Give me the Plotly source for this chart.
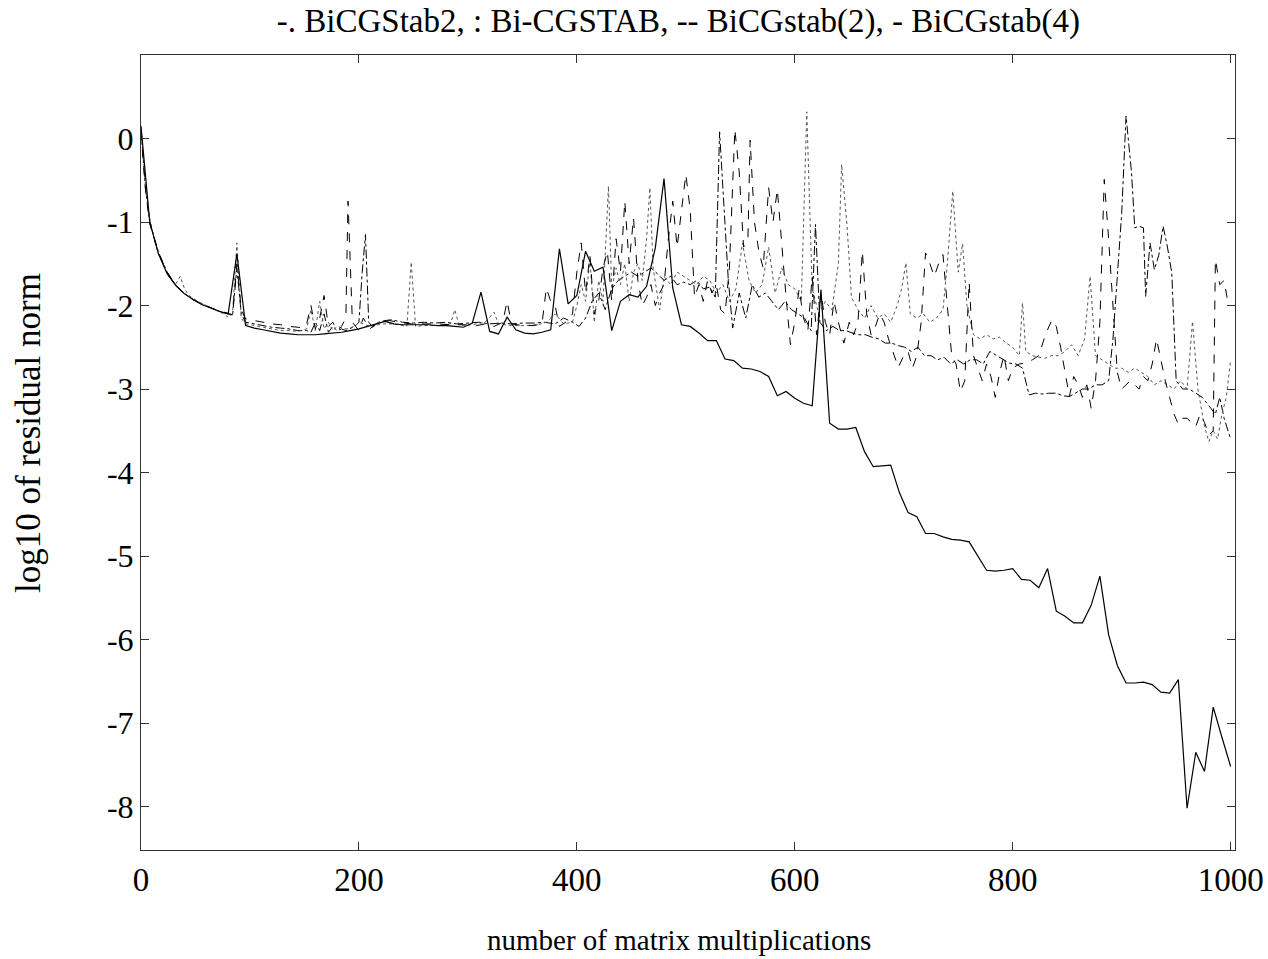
import plotly.graph_objects as go

# ---- BiCGstab(4) (solid) ----
x_b4 = [0, 8, 16, 24, 32, 40, 48, 56, 64, 72, 80, 88, 96, 104, 112, 120, 128, 136, 144, 152,
        160, 168, 176, 184, 192, 200, 208, 216, 224, 232, 240, 248, 256, 264, 272, 280, 288, 296,
        304, 312, 320, 328, 336, 344, 352, 360, 368, 376, 384, 392, 400, 408, 416, 424, 432, 440,
        448, 456, 464, 472, 480, 488, 496, 504, 512, 520, 528, 536, 544, 552, 560, 568, 576, 584,
        592, 600, 608, 616, 624, 632, 640, 648, 656, 664, 672, 680, 688, 696, 704, 712, 720, 728,
        736, 744, 752, 760, 768, 776, 784, 792, 800, 808, 816, 824, 832, 840, 848, 856, 864, 872,
        880, 888, 896, 904, 912, 920, 928, 936, 944, 952, 960, 968, 976, 984, 992, 1000]
y_b4 = [0.15, -1.0, -1.38, -1.62, -1.76, -1.86, -1.93, -1.99, -2.03, -2.07, -2.10, -1.38, -2.24,
        -2.27, -2.29, -2.31, -2.33, -2.34, -2.35, -2.35, -2.35, -2.34, -2.33, -2.32, -2.30, -2.28,
        -2.25, -2.22, -2.19, -2.22, -2.23, -2.23, -2.23, -2.23, -2.24, -2.24, -2.25, -2.26, -2.21,
        -1.84, -2.31, -2.34, -2.14, -2.29, -2.33, -2.34, -2.32, -2.29, -1.32, -1.98, -1.88, -1.35,
        -1.59, -1.54, -2.30, -1.95, -1.87, -1.90, -1.77, -1.31, -0.48, -1.79, -2.23, -2.25, -2.33,
        -2.42, -2.42, -2.64, -2.66, -2.75, -2.76, -2.79, -2.85, -3.08, -3.03, -3.11, -3.17, -3.20,
        -1.81, -3.41, -3.48, -3.48, -3.46, -3.75, -3.93, -3.92, -3.91, -4.24, -4.48, -4.53, -4.73,
        -4.73, -4.77, -4.80, -4.81, -4.83, -5.00, -5.17, -5.18, -5.17, -5.15, -5.28, -5.29, -5.38,
        -5.15, -5.66, -5.72, -5.80, -5.80, -5.59, -5.24, -5.94, -6.31, -6.52, -6.52, -6.51, -6.54,
        -6.63, -6.64, -6.48, -8.02, -7.35, -7.58, -6.81, -7.17, -7.52]

# ---- Bi-CGSTAB (dotted) ----
x_bi = [0, 4, 8, 12, 16, 20, 24, 28, 32, 36, 40, 44, 52, 60, 68, 76, 80, 84, 88, 92, 96, 104, 112,
        120, 128, 136, 144, 152, 156, 160, 164, 168, 172, 176, 180, 188, 196, 200, 212, 220, 232,
        244, 248, 252, 260, 272, 284, 288, 292, 304, 316, 324, 328, 340, 352, 364, 372, 380, 388,
        396, 400, 404, 408, 412, 416, 420, 424, 429, 432, 436, 440, 444, 448, 452, 456, 460, 464,
        467, 470, 476, 480, 486, 492, 498, 504, 510, 516, 522, 528, 534, 540, 546, 552, 558, 564,
        570, 576, 582, 588, 594, 600, 606, 611, 616, 622, 628, 634, 640, 643, 648, 652, 658, 664,
        670, 676, 682, 688, 694, 698, 702, 706, 712, 718, 724, 730, 736, 740, 745, 750, 754, 758,
        764, 770, 776, 782, 788, 794, 800, 806, 809, 812, 818, 824, 830, 836, 842, 848, 854, 860,
        866, 871, 876, 882, 888, 894, 900, 906, 912, 918, 924, 930, 936, 942, 948, 954, 960, 965,
        970, 976, 980, 984, 988, 992, 996, 1000]
y_bi = [0.12, -0.55, -0.95, -1.2, -1.38, -1.5, -1.62, -1.7, -1.74, -1.65, -1.8, -1.88, -1.95, -2.0,
        -2.05, -2.1, -2.14, -2.1, -1.25, -2.15, -2.22, -2.24, -2.26, -2.28, -2.3, -2.3, -2.31, -2.28,
        -2.05, -2.3, -1.95, -2.28, -2.2, -2.3, -2.25, -2.28, -2.25, -2.2, -2.26, -2.22, -2.22, -2.25,
        -1.48, -2.25, -2.24, -2.24, -2.22, -2.05, -2.24, -2.23, -2.2, -2.08, -2.22, -2.24, -2.24,
        -2.23, -2.2, -2.1, -2.22, -2.2, -2.0, -1.75, -1.95, -1.45, -2.2, -1.7, -1.95, -0.57, -1.8,
        -1.55, -1.75, -1.5, -1.95, -1.6, -1.5, -1.7, -1.2, -0.59, -1.55, -2.05, -1.65, -1.75, -1.6,
        -1.65, -1.7, -1.75, -1.65, -1.7, -1.85, -1.75, -1.95, -1.8, -1.25, -1.7, -1.85, -1.75, -1.3,
        -1.85, -1.55, -1.75, -1.8, -1.95, 0.32, -1.8, -2.1, -1.95, -2.05, -1.5, -0.31, -1.05, -1.9,
        -2.05, -2.15, -2.0, -2.15, -2.1, -2.2, -2.0, -1.8, -1.49, -2.1, -2.15, -2.1, -2.2, -2.15,
        -2.05, -1.5, -0.63, -1.6, -1.26, -2.0, -2.35, -2.4, -2.35, -2.4, -2.38, -2.45, -2.5, -2.6,
        -1.97, -2.55, -2.6, -2.62, -2.63, -2.6, -2.6, -2.55, -2.47, -2.6, -2.4, -1.65, -2.6, -2.65,
        -2.7, -2.75, -2.75, -2.8, -2.75, -2.8, -2.85, -2.95, -2.9, -2.95, -3.0, -2.9, -3.0, -2.19,
        -3.0, -3.45, -3.63, -3.5, -3.6, -3.3, -3.1, -2.65]

# ---- BiCGstab(2) (dashed) ----
x_b2 = [0, 4, 8, 16, 24, 32, 40, 48, 56, 64, 72, 80, 84, 88, 92, 96, 104, 112, 120, 128, 136, 144,
        148, 152, 156, 160, 164, 168, 172, 176, 180, 184, 188, 190, 194, 200, 204, 210, 216, 222,
        228, 236, 248, 260, 272, 284, 296, 308, 316, 324, 332, 336, 340, 350, 360, 368, 372, 376,
        380, 384, 392, 396, 400, 404, 408, 412, 416, 420, 424, 428, 432, 436, 440, 444, 448, 452,
        456, 460, 464, 468, 472, 476, 480, 484, 488, 492, 496, 500, 504, 508, 512, 516, 520, 524,
        528, 532, 536, 540, 545, 549, 553, 557, 559, 563, 567, 571, 576, 580, 584, 588, 592, 596,
        600, 604, 608, 612, 616, 620, 624, 628, 632, 636, 640, 645, 650, 654, 658, 662, 666, 670,
        674, 678, 682, 686, 690, 695, 700, 704, 708, 712, 716, 720, 724, 728, 732, 736, 740, 744,
        748, 752, 756, 760, 764, 768, 772, 776, 780, 784, 788, 792, 796, 800, 806, 812, 818, 824,
        830, 836, 840, 844, 848, 852, 856, 860, 864, 868, 872, 876, 880, 884, 888, 892, 896, 900,
        904, 908, 912, 916, 920, 924, 928, 932, 936, 940, 944, 948, 952, 956, 960, 964, 968, 972,
        976, 980, 984, 986, 990, 994, 998, 1000]
y_b2 = [0.08, -0.6, -1.02, -1.37, -1.6, -1.76, -1.86, -1.93, -1.98, -2.03, -2.06, -2.09, -2.11,
        -1.5, -2.05, -2.16, -2.18, -2.2, -2.22, -2.23, -2.25, -2.26, -2.27, -2.22, -2.0, -2.28,
        -2.15, -1.88, -2.25, -2.2, -2.3, -2.25, -2.15, -0.75, -2.2, -2.3, -2.15, -2.28, -2.22, -2.2,
        -2.18, -2.2, -2.22, -2.22, -2.22, -2.23, -2.23, -2.24, -2.22, -2.25, -2.2, -1.95, -2.22,
        -2.24, -2.24, -2.22, -1.79, -1.95, -2.0, -2.25, -2.18, -2.1, -1.6, -1.25, -1.85, -1.4, -2.1,
        -1.95, -1.55, -1.35, -1.95, -1.2, -1.6, -0.75, -1.5, -0.95, -1.7, -2.0, -1.9, -1.75, -2.0,
        -1.85, -1.75, -1.2, -0.75, -1.3, -0.85, -0.43, -0.85, -1.9, -1.75, -1.95, -1.7, -1.85,
        -1.75, -2.05, -2.1, -1.55, 0.11, -0.4, -1.3, -1.2, -0.02, -1.0, -1.35, -1.55, -0.59, -1.0,
        -0.61, -1.3, -1.9, -2.47, -2.2, -1.8, -2.15, -2.3, -1.65, -2.35, -1.85, -2.2, -2.35, -1.95,
        -2.2, -2.45, -2.2, -2.35, -2.2, -1.35, -2.1, -2.35, -2.25, -2.1, -2.2, -2.4, -2.55, -2.74,
        -2.6, -2.55, -2.75, -2.6, -2.2, -1.37, -1.5, -1.65, -1.5, -1.39, -2.0, -2.6, -2.7, -3.03,
        -2.9, -1.72, -2.6, -2.75, -2.9, -2.7, -2.85, -3.1, -2.8, -2.6, -2.9, -2.75, -2.7, -2.69,
        -2.65, -2.6, -2.35, -2.17, -2.25, -2.5, -2.8, -3.09, -2.85, -2.95, -3.1, -2.95, -3.23, -2.9,
        -2.2, -0.49, -1.2, -2.0, -2.8, -3.0, -2.95, -2.9, -2.95, -3.0, -2.85, -2.9, -2.7, -2.4,
        -2.65, -2.9, -3.1, -3.3, -3.42, -3.35, -3.35, -3.4, -3.45, -3.3, -3.4, -3.55, -3.5, -1.45,
        -1.75, -1.7, -2.0, -2.0]

# ---- BiCGStab2 (dash-dot) ----
x_s2 = [0, 4, 8, 16, 24, 32, 40, 48, 56, 64, 72, 80, 84, 88, 92, 96, 104, 112, 120, 128, 136, 144,
        152, 156, 160, 164, 168, 172, 176, 180, 184, 188, 196, 200, 203, 206, 209, 212, 218, 224,
        230, 240, 250, 260, 270, 280, 290, 300, 310, 320, 330, 340, 350, 360, 370, 380, 388, 396,
        402, 408, 414, 420, 426, 432, 438, 444, 450, 456, 462, 468, 474, 480, 486, 492, 498, 504,
        510, 516, 522, 527, 531, 535, 539, 543, 549, 555, 561, 567, 573, 579, 585, 591, 597, 603,
        609, 615, 619, 623, 629, 635, 641, 647, 653, 659, 665, 671, 677, 683, 689, 695, 701, 707,
        713, 719, 725, 731, 737, 743, 749, 755, 761, 767, 773, 779, 785, 791, 797, 803, 809, 815,
        821, 827, 833, 840, 846, 852, 858, 864, 870, 876, 882, 888, 892, 896, 900, 904, 909, 912,
        916, 920, 922, 926, 930, 934, 938, 942, 946, 950, 956, 962, 968, 974, 980, 986, 990, 994,
        1000]
y_s2 = [0.1, -0.58, -1.0, -1.36, -1.6, -1.76, -1.86, -1.93, -1.98, -2.03, -2.07, -2.1, -2.12,
        -1.55, -2.1, -2.2, -2.22, -2.24, -2.26, -2.27, -2.28, -2.3, -2.3, -2.32, -2.2, -2.3, -2.1,
        -2.32, -2.25, -2.3, -2.28, -2.3, -2.25, -2.2, -1.6, -1.15, -2.2, -2.25, -2.2, -2.18, -2.17,
        -2.2, -2.21, -2.2, -2.21, -2.2, -2.22, -2.21, -2.2, -2.22, -2.21, -2.22, -2.21, -2.21, -2.2,
        -2.22, -2.15, -2.2, -2.25, -2.15, -1.95, -1.85, -2.05, -1.8, -1.7, -1.65, -1.6, -1.65, -1.6,
        -1.55, -1.62, -1.7, -1.65, -1.75, -1.72, -1.75, -1.7, -1.8, -1.78, -1.9, 0.08, -0.8, -1.7,
        -2.27, -1.85, -2.15, -1.75, -1.9, -1.85, -1.95, -2.05, -1.95, -2.05, -2.1, -2.15, -2.3,
        -1.03, -2.2, -2.3, -2.25, -2.3, -2.3, -2.33, -2.35, -2.35, -2.38, -2.4, -2.45, -2.45, -2.48,
        -2.5, -2.55, -2.5, -2.6, -2.6, -2.65, -2.62, -2.7, -2.65, -2.7, -2.65, -2.65, -2.7, -2.55,
        -2.6, -2.65, -2.69, -2.7, -2.75, -3.07, -3.05, -3.06, -3.05, -3.05, -3.08, -3.09, -3.05,
        -3.0, -3.0, -2.95, -2.95, -2.9, -2.4, -1.6, -0.9, 0.27, -0.4, -1.07, -1.05, -1.07, -1.89,
        -1.25, -1.57, -1.4, -1.05, -1.3, -1.61, -2.9, -3.0, -3.0, -3.05, -3.1, -3.2, -3.3, -3.1,
        -3.35, -3.6]

x_ticks = [0, 200, 400, 600, 800, 1000]
y_ticks = [0, -1, -2, -3, -4, -5, -6, -7, -8]
y_tick_text = ["0", "-1", "-2", "-3", "-4", "-5", "-6", "-7", "-8"]

FONT = "Liberation Serif, Times New Roman, serif"

fig = go.Figure()
fig.add_trace(go.Scatter(x=x_s2, y=y_s2, mode="lines", name="BiCGStab2",
                         line=dict(color="black", width=1, dash="dashdot")))
fig.add_trace(go.Scatter(x=x_bi, y=y_bi, mode="lines", name="Bi-CGSTAB",
                         line=dict(color="#555555", width=1, dash="dot")))
fig.add_trace(go.Scatter(x=x_b2, y=y_b2, mode="lines", name="BiCGstab(2)",
                         line=dict(color="black", width=1, dash="dash")))
fig.add_trace(go.Scatter(x=x_b4, y=y_b4, mode="lines", name="BiCGstab(4)",
                         line=dict(color="black", width=1.2, dash="solid")))

fig.update_layout(
    width=1268, height=959,
    margin=dict(l=141, r=33, t=55, b=109, autoexpand=False),
    paper_bgcolor="white", plot_bgcolor="white",
    showlegend=False,
    font=dict(family=FONT, color="black", size=32),
    title=dict(text="-. BiCGStab2, : Bi-CGSTAB, -- BiCGstab(2), - BiCGstab(4)",
               x=0.535, xref="container", y=0.979, yref="container",
               xanchor="center", yanchor="middle",
               font=dict(family=FONT, size=33, color="black")),
    xaxis=dict(range=[0, 1004], tickvals=x_ticks, ticks="inside", ticklen=8, tickwidth=1,
               tickcolor="#333", showline=True, linecolor="#333", linewidth=1, mirror="ticks",
               showgrid=False, zeroline=False, automargin=False,
               tickfont=dict(size=33, family=FONT)),
    yaxis=dict(range=[-8.52, 1.0], tickvals=y_ticks, ticktext=y_tick_text, ticks="inside",
               ticklen=8, tickwidth=1, tickcolor="#333", showline=True, linecolor="#333",
               linewidth=1, mirror="ticks", showgrid=False, zeroline=False, automargin=False,
               tickfont=dict(size=32, family=FONT)),
    annotations=[
        dict(text="number of matrix multiplications", xref="paper", yref="paper",
             x=0.492, y=-0.113, xanchor="center", yanchor="middle", showarrow=False,
             font=dict(size=29, family=FONT)),
        dict(text="log10 of residual norm", xref="paper", yref="paper",
             x=-0.103, y=0.525, xanchor="center", yanchor="middle", showarrow=False,
             textangle=-90, font=dict(size=35, family=FONT)),
    ],
)

fig.write_html("out.html")
